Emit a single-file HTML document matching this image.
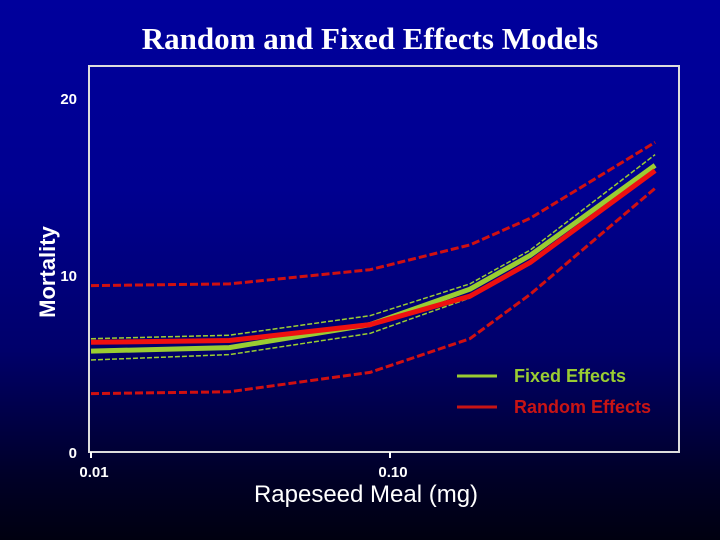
<!DOCTYPE html>
<html><head><meta charset="utf-8"><style>
html,body{margin:0;padding:0;}
body{width:720px;height:540px;overflow:hidden;background:linear-gradient(#00009c 0%,#000090 35%,#00006a 65%,#000028 88%,#000010 100%);}
svg{display:block;}
</style></head><body>
<svg width="720" height="540">
<text x="370" y="49" text-anchor="middle" fill="#fff" font-family="Liberation Serif, serif" font-weight="bold" font-size="31">Random and Fixed Effects Models</text>
<g id="axes"></g>
<g id="series"></g>
<text transform="translate(55,272) rotate(-90)" text-anchor="middle" fill="#fff" font-family="Liberation Sans, sans-serif" font-weight="bold" font-size="22">Mortality</text>
<text x="366" y="502" text-anchor="middle" fill="#fff" font-family="Liberation Sans, sans-serif" font-size="24">Rapeseed Meal (mg)</text>
<g>
<line x1="457" y1="376" x2="497" y2="376" stroke="#9acd32" stroke-width="3"/>
<text x="514" y="382" fill="#9acd32" font-family="Liberation Sans, sans-serif" font-weight="bold" font-size="18">Fixed Effects</text>
<line x1="457" y1="407" x2="497" y2="407" stroke="#c81414" stroke-width="3"/>
<text x="514" y="413" fill="#c81414" font-family="Liberation Sans, sans-serif" font-weight="bold" font-size="18">Random Effects</text>
</g>
</svg>
<script>
const doses=[0.01,0.029,0.0857,0.185,0.294,0.77];
const fixedMain=[5.7,5.9,7.2,9.2,11.1,16.2];
const fixedUpper=[6.4,6.6,7.7,9.5,11.4,16.8];
const fixedLower=[5.2,5.5,6.7,8.7,10.7,15.8];
const randomMain=[6.2,6.3,7.2,8.8,10.7,15.9];
const randomUpper=[9.4,9.5,10.3,11.7,13.2,17.5];
const randomLower=[3.3,3.4,4.5,6.4,8.9,14.9];
const yTicks=[0,10,20];
const xTicks=[0.01,0.10];
const xTickLabels=["0.01","0.10"];
const NS="http://www.w3.org/2000/svg";
function X(d){return 91+299*Math.log10(d/0.01);}
function Y(v){return 452-17.7*v;}
const axes=document.getElementById('axes');
const ser=document.getElementById('series');
function mk(tag,attrs,parent){const e=document.createElementNS(NS,tag);for(const k in attrs)e.setAttribute(k,attrs[k]);parent.appendChild(e);return e;}
const frame=mk('rect',{x:89,y:66,width:590,height:386,fill:'none',stroke:'#ddd','stroke-width':2},axes);


yTicks.forEach(v=>{
 const t=mk('text',{x:77,y:Y(v)+6,'text-anchor':'end',fill:'#fff','font-family':'Liberation Sans, sans-serif','font-weight':'bold','font-size':15},axes);
 t.textContent=v;
 
 
});
xTicks.forEach((d,i)=>{
 const t=mk('text',{x:X(d)+3,y:477,'text-anchor':'middle',fill:'#fff','font-family':'Liberation Sans, sans-serif','font-weight':'bold','font-size':15},axes);
 t.textContent=xTickLabels[i];
 
 
 const l=mk('line',{x1:X(d),x2:X(d),y1:452,y2:458,stroke:'#fff','stroke-width':2},axes);
 
 
});
function path(vals){return vals.map((v,i)=>(i?'L':'M')+X(doses[i]).toFixed(1)+','+Y(v).toFixed(1)).join(' ');}
function line(vals,color,w,dash,name){
 const p=mk('path',{d:path(vals),fill:'none',stroke:color,'stroke-width':w,'stroke-linejoin':'round'},ser);
 if(dash)p.setAttribute('stroke-dasharray',dash);
 
 
}
line(randomUpper,'#d01010',3,'8,3','random-upper-ci');
line(randomLower,'#d01010',3,'8,3','random-lower-ci');
line(fixedUpper,'#9acd32',1.5,'5,2','fixed-upper-ci');
line(fixedLower,'#9acd32',1.5,'5,2','fixed-lower-ci');
line(fixedMain,'#9acd32',5,null,'fixed-effects-line');
line(randomMain,'#ee1010',5,null,'random-effects-line');
</script>
</body></html>
